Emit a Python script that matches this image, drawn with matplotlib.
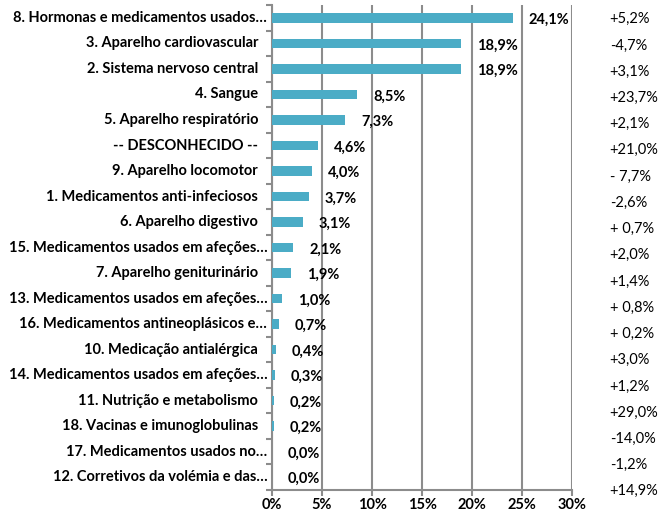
import matplotlib
matplotlib.use("Agg")
import matplotlib.pyplot as plt
import matplotlib.transforms as mtransforms
import numpy as np

plt.rcParams['font.family'] = ['Lato', 'DejaVu Sans']

# categories, top to bottom
categories = [
    "8. Hormonas e medicamentos usados…",
    "3. Aparelho cardiovascular",
    "2. Sistema nervoso central",
    "4. Sangue",
    "5. Aparelho respiratório",
    "-- DESCONHECIDO --",
    "9. Aparelho locomotor",
    "1. Medicamentos anti-infeciosos",
    "6. Aparelho digestivo",
    "15. Medicamentos usados em afeções…",
    "7. Aparelho geniturinário",
    "13. Medicamentos usados em afeções…",
    "16. Medicamentos antineoplásicos e…",
    "10. Medicação antialérgica",
    "14. Medicamentos usados em afeções…",
    "11. Nutrição e metabolismo",
    "18. Vacinas e imunoglobulinas",
    "17. Medicamentos usados no…",
    "12. Corretivos da volémia e das…",
]
shares = [24.1, 18.9, 18.9, 8.5, 7.3, 4.6, 4.0, 3.7, 3.1, 2.1, 1.9,
          1.0, 0.7, 0.4, 0.3, 0.2, 0.2, 0.0, 0.0]
changes = ["+5,2%", "-4,7%", "+3,1%", "+23,7%", "+2,1%", "+21,0%", "- 7,7%",
           "-2,6%", "+ 0,7%", "+2,0%", "+1,4%", "+ 0,8%", "+ 0,2%", "+3,0%",
           "+1,2%", "+29,0%", "-14,0%", "-1,2%", "+14,9%"]
xticks = [0, 5, 10, 15, 20, 25, 30]

bar_color = "#4BACC6"
grid_color = "#8C8C8C"
fs = 10.5

fig = plt.figure(figsize=(6.62, 5.19), dpi=100)
ax = fig.add_axes([0.411, 0.056, 0.453, 0.934])

y = np.arange(len(categories))
ax.barh(y, shares, height=0.38, color=bar_color, zorder=3)

ax.set_xlim(0, 30)
ax.set_ylim(len(categories) - 0.5, -0.5)
ax.set_xticks(xticks)
ax.set_xticklabels([f"{t}%" for t in xticks], fontweight="bold", fontsize=fs)
ax.set_yticks(y)
ax.set_yticklabels([])
ax.tick_params(axis="y", length=0)
ax.set_yticks(np.arange(len(categories) + 1) - 0.5, minor=True)
ax.tick_params(axis="y", which="minor", length=4, width=1.5, color=grid_color)
ax.tick_params(axis="x", length=4, width=1.5, color=grid_color, pad=2)

ax.grid(axis="x", color=grid_color, linewidth=1.5, zorder=0)
for s in ["top", "right"]:
    ax.spines[s].set_visible(False)
for s in ["left", "bottom"]:
    ax.spines[s].set_color(grid_color)
    ax.spines[s].set_linewidth(1.5)

# category labels (truncated ones run closer to the axis, like Excel)
for yi, name in zip(y, categories):
    pad = -3.5 if name.endswith("…") else -10
    ax.annotate(name, xy=(0, yi), xytext=(pad, 0), textcoords="offset points",
                va="center", ha="right", fontweight="bold", fontsize=fs,
                annotation_clip=False)

# value labels
for yi, v in zip(y, shares):
    ax.annotate(f"{v:.1f}%".replace(".", ","), xy=(v, yi), xytext=(11.5, -1.5),
                textcoords="offset points", va="center", ha="left",
                fontweight="bold", fontsize=fs, zorder=4)

# change column on the right (separate text block, slightly looser spacing)
trans = mtransforms.blended_transform_factory(fig.transFigure, ax.transData)
for yi, c in zip(y, changes):
    ax.text(0.921, yi * 1.028 + 0.05, c, transform=trans, va="center",
            ha="left", fontsize=fs, clip_on=False)

fig.savefig("out.png", dpi=100)
